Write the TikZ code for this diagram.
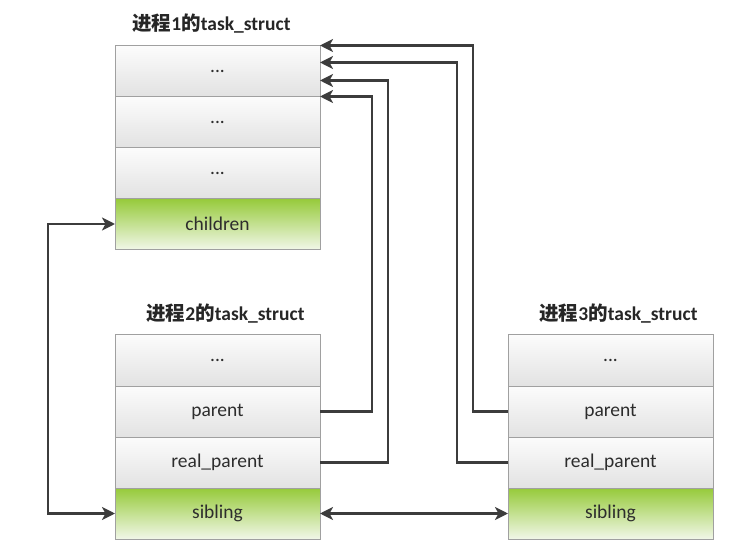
\documentclass[tikz,border=0pt]{standalone}
\usepackage{fontspec}
\setmainfont{Carlito}
\newfontfamily\cjk{Noto Sans CJK SC}
\usetikzlibrary{arrows.meta, calc, positioning}
\definecolor{rowtop}{RGB}{252, 252, 252}
\definecolor{rowbot}{RGB}{226, 226, 226}
\definecolor{kidtop}{RGB}{150, 202, 58}
\definecolor{kidbot}{RGB}{241, 247, 232}
\definecolor{edgecol}{RGB}{160, 160, 160}
\definecolor{linecol}{RGB}{60, 60, 60}
\definecolor{textcol}{RGB}{45, 45, 45}
\tikzset{
  field/.style    = {draw=edgecol, line width=1pt, top color=rowtop,
                     bottom color=rowbot, minimum width=205pt,
                     minimum height=51pt, inner sep=0pt, outer sep=0pt,
                     text=textcol, font=\fontsize{19.5}{22}\selectfont},
  kid/.style      = {field, top color=kidtop, bottom color=kidbot},
  structname/.style = {font=\fontsize{19.5}{22}\selectfont\bfseries,
                     text=black!85, inner sep=0pt},
  ptr/.style      = {-{Stealth[length=13pt, width=13pt, inset=3.5pt]},
                     draw=linecol, line width=2.8pt},
  % sibling lists are linked both ways
  both/.style     = {{Stealth[length=13pt, width=13pt, inset=3.5pt]}-{Stealth[length=13pt, width=13pt, inset=3.5pt]},
                     draw=linecol, line width=2.8pt},
}
\newcommand{\zh}[1]{{\cjk #1}}

\begin{document}
\begin{tikzpicture}[x=1pt, y=-1pt]
  \useasboundingbox (0,0) rectangle (729,556);

  %% ---------------- process 1 ----------------
  \node[field] (p1a) at (217.5,71) {...};
  \node[field, below=0pt of p1a] (p1b) {...};
  \node[field, below=0pt of p1b] (p1c) {...};
  \node[kid, below=0pt of p1c] (p1kid) {children};
  \node[structname, above=12pt of p1a, xshift=-6pt] (n1) {\zh{进程}1\zh{的}task\_struct};

  %% ---------------- process 2 ----------------
  \node[field] (p2a) at (217.5,360.5) {...};
  \node[field, below=0pt of p2a] (p2par) {parent};
  \node[field, below=0pt of p2par] (p2real) {real\_parent};
  \node[kid, below=0pt of p2real] (p2sib) {sibling};
  \node[structname, above=12pt of p2a, xshift=8pt] (n2) {\zh{进程}2\zh{的}task\_struct};

  %% ---------------- process 3 ----------------
  \node[field] (p3a) at (610.5,360.5) {...};
  \node[field, below=0pt of p3a] (p3par) {parent};
  \node[field, below=0pt of p3par] (p3real) {real\_parent};
  \node[kid, below=0pt of p3real] (p3sib) {sibling};
  \node[structname, above=12pt of p3a, xshift=8pt] (n3) {\zh{进程}3\zh{的}task\_struct};

  %% ---------------- pointers ----------------
  \draw[ptr] (p3par.west) -- ++(-35,0) |- (p1a.north east);
  \draw[ptr] (p3real.west) -- ++(-51,0) |- ($(p1a.north east)+(0,17)$);
  \draw[ptr] (p2real.east) -- ++(68,0) |- ($(p1a.north east)+(0,35)$);
  \draw[ptr] (p2par.east) -- ++(52,0) |- (p1a.south east);

  \draw[both] (p1kid.west) -- ++(-67,0) |- (p2sib.west);
  \draw[both] (p2sib.east) -- (p3sib.west);

\end{tikzpicture}
\end{document}
